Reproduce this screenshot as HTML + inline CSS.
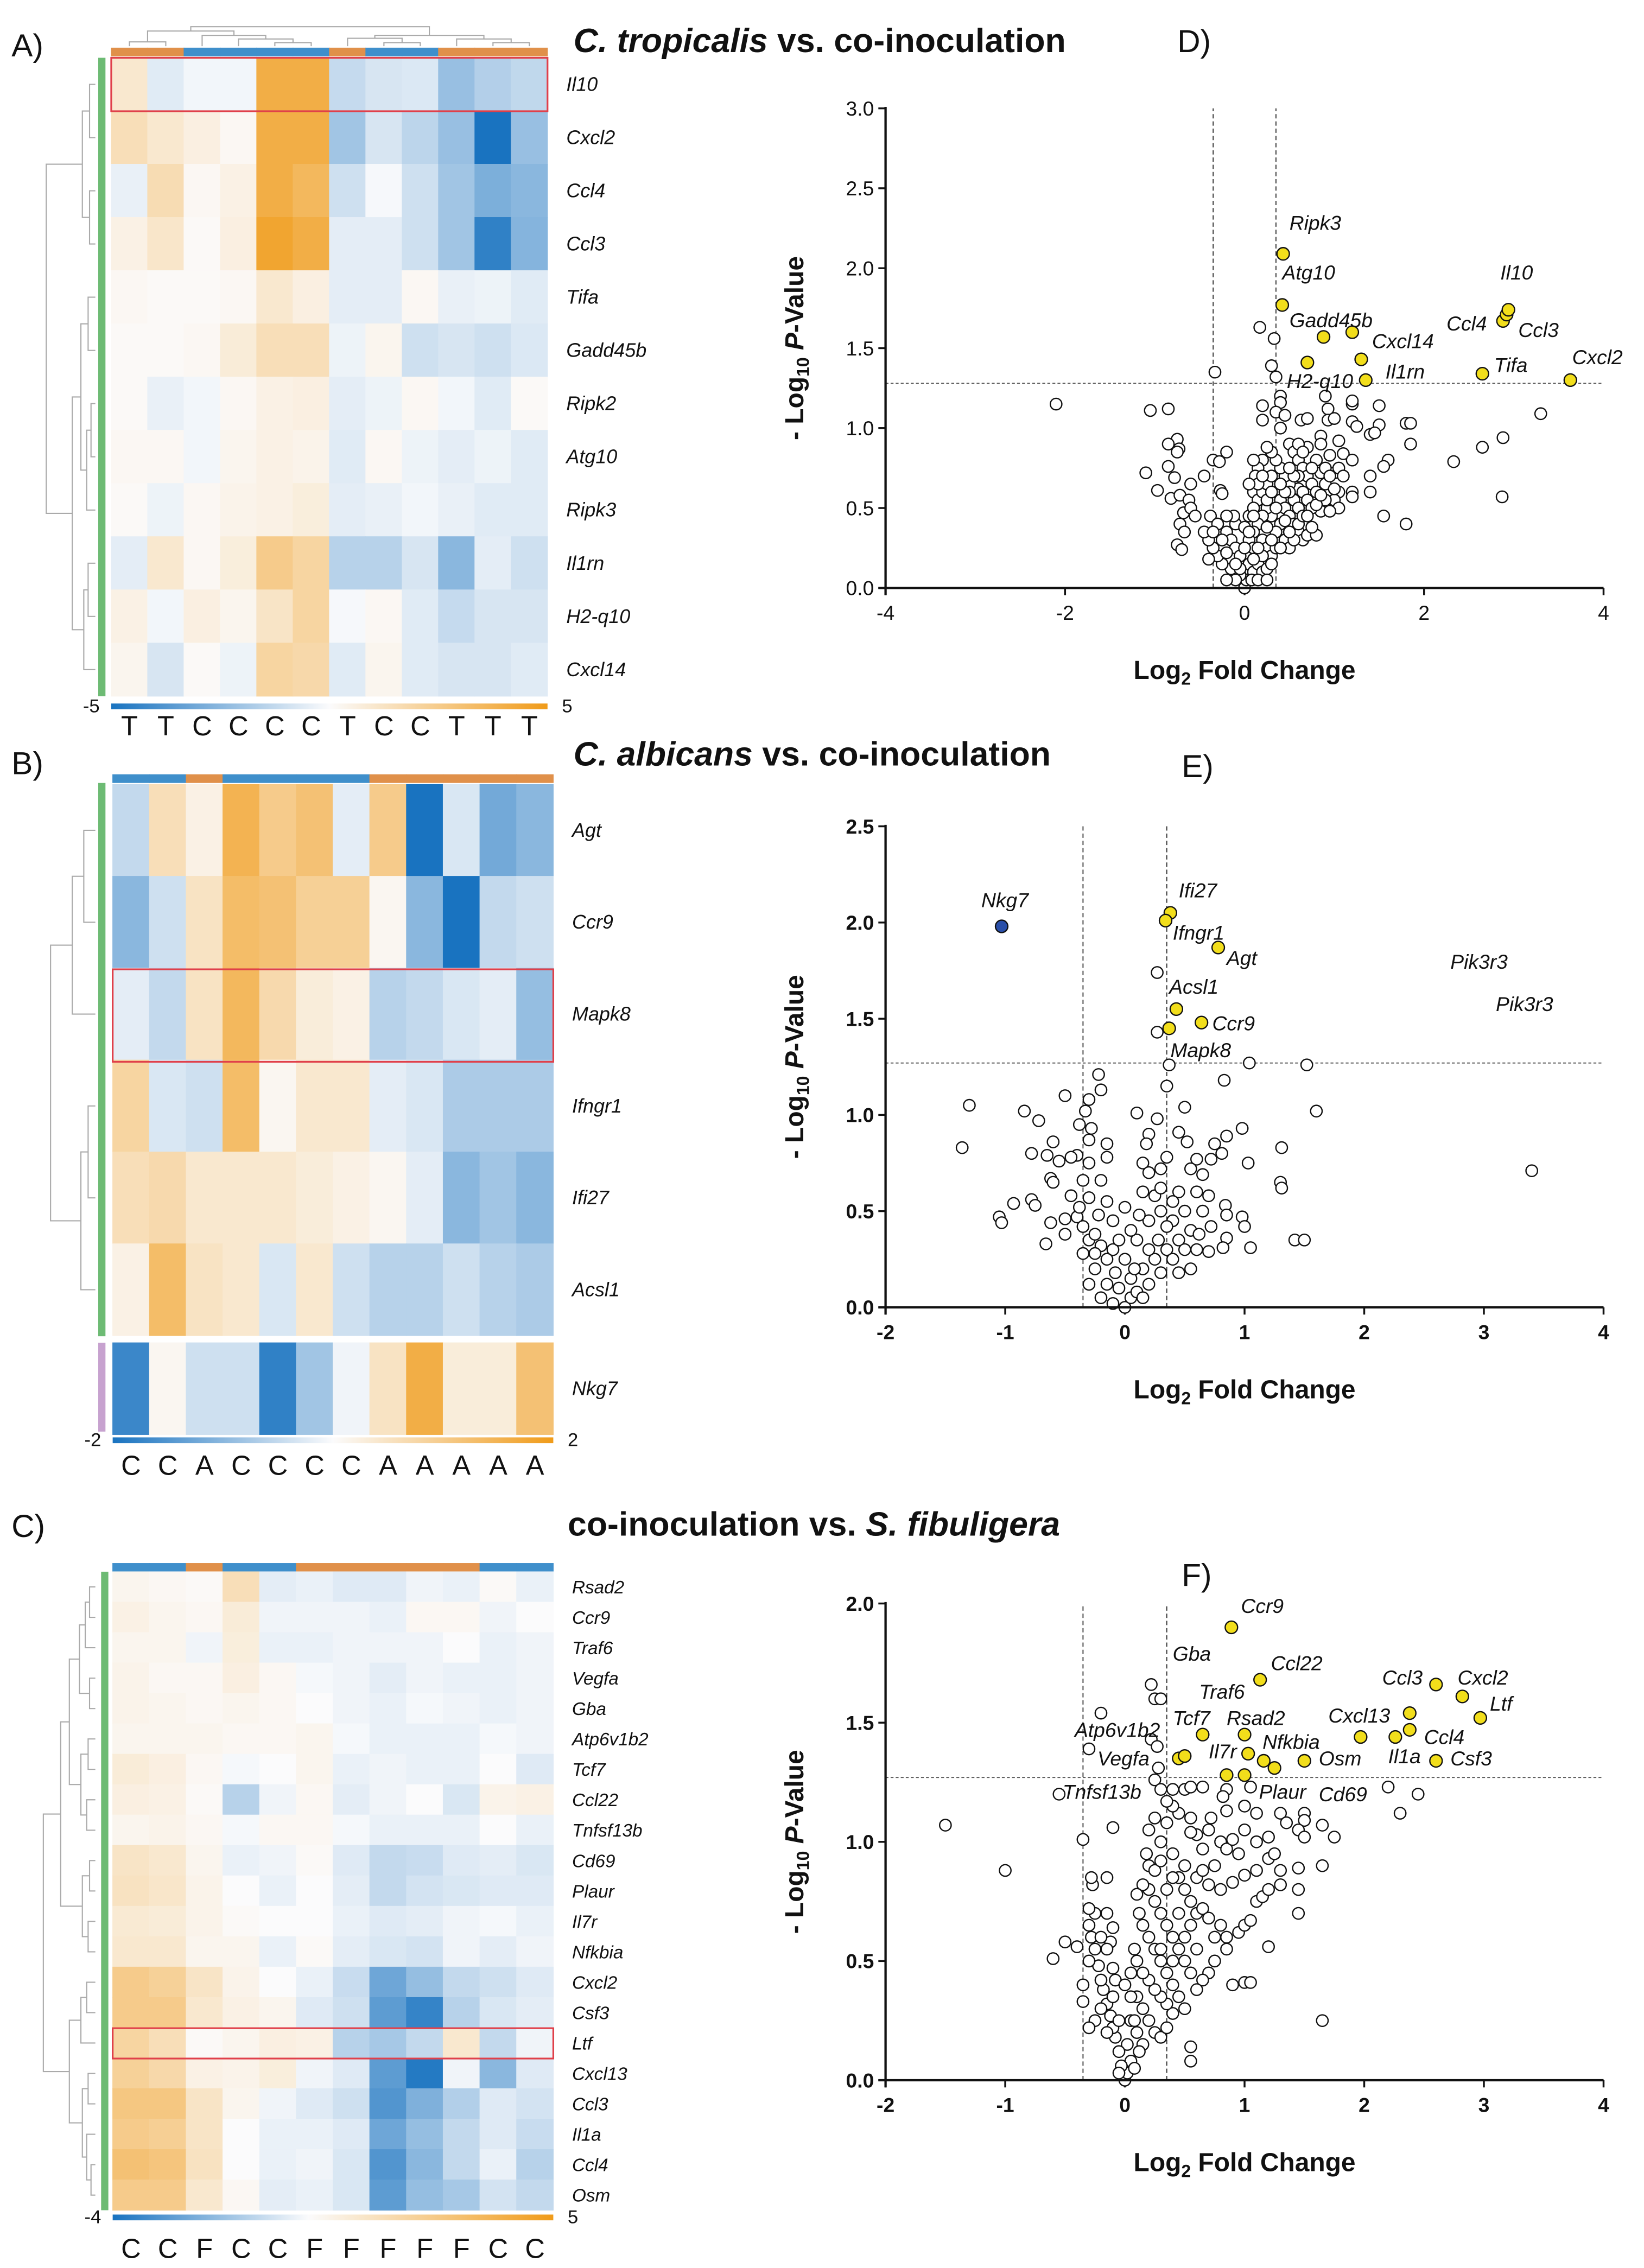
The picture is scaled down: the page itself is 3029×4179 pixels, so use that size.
<!DOCTYPE html>
<html><head><meta charset="utf-8">
<style>
html,body{margin:0;padding:0;background:#fff;}
svg{display:block;}
text{font-family:"Liberation Sans",Arial,sans-serif;}
</style></head>
<body>
<svg id="fig" xmlns="http://www.w3.org/2000/svg" width="3029" height="4179" viewBox="0 0 1138 1570" preserveAspectRatio="none">
<rect width="1138" height="1570" fill="#fff"/>
</svg>
<script>
// ===== Heatmap data =====
const rowsA = ["Il10","Cxcl2","Ccl4","Ccl3","Tifa","Gadd45b","Ripk2","Atg10","Ripk3","Il1rn","H2-q10","Cxcl14"];
const colsA = ["T","T","C","C","C","C","T","C","C","T","T","T"];
const valsA = [
[1,-0.6,-0.2,-0.2,4,4,-1.2,-0.8,-0.7,-2.2,-1.6,-1.3],
[1.5,1,0.6,0.2,4,4,-2,-0.8,-1.4,-2.2,-5,-2.2],
[-0.4,1.6,0.2,0.5,4,3.5,-1,-0.1,-1,-2,-2.8,-2.5],
[0.5,1.1,0.1,0.6,4.5,4,-0.5,-0.5,-1,-2,-4.5,-2.6],
[0.2,0.1,0.1,0.2,1,0.6,-0.5,-0.5,0.2,-0.4,-0.3,-0.6],
[0.1,0.1,0.2,0.8,1.5,1.5,-0.3,0.3,-1,-0.8,-1,-0.7],
[0.1,-0.4,-0.2,0.2,0.5,0.6,-0.5,-0.3,0.2,-0.2,-0.6,0.1],
[0.2,0.2,-0.2,0.3,0.5,0.4,-0.6,0.2,-0.3,-0.5,-0.3,-0.6],
[0.1,-0.3,0.2,0.4,0.5,0.7,-0.5,-0.4,-0.2,-0.4,-0.6,-0.6],
[-0.5,1,0.2,0.7,2.5,2,-1.5,-1.5,-0.8,-2.5,-0.5,-1],
[0.5,-0.2,0.6,0.3,1.2,2,-0.1,0.2,-0.6,-1.2,-0.8,-0.8],
[0.3,-0.8,0.1,-0.3,2,1.8,-0.6,0.3,-0.6,-0.8,-0.8,-0.6]];
const rowsB = ["Agt","Ccr9","Mapk8","Ifngr1","Ifi27","Acsl1","Nkg7"];
const colsB = ["C","C","A","C","C","C","C","A","A","A","A","A"];
const valsB = [
[-0.5,0.6,0.2,1.5,1,1.2,-0.2,1,-2,-0.3,-1.2,-1],
[-1,-0.4,0.5,1.3,1.2,0.9,0.9,0.1,-1,-2,-0.5,-0.4],
[-0.2,-0.5,0.5,1.4,0.7,0.3,0.2,-0.6,-0.5,-0.3,-0.2,-0.9],
[0.8,-0.3,-0.4,1.3,0.1,0.4,0.4,-0.2,-0.3,-0.7,-0.7,-0.7],
[0.6,0.7,0.4,0.4,0.4,0.3,0.2,0.1,-0.2,-1,-0.8,-1],
[0.2,1.3,0.5,0.4,-0.3,0.4,-0.4,-0.6,-0.6,-0.4,-0.6,-0.7],
[-1.7,0.1,-0.4,-0.4,-1.8,-0.8,-0.1,0.5,1.6,0.3,0.3,1.2]];
const rowsC = ["Rsad2","Ccr9","Traf6","Vegfa","Gba","Atp6v1b2","Tcf7","Ccl22","Tnfsf13b","Cd69","Plaur","Il7r","Nfkbia","Cxcl2","Csf3","Ltf","Cxcl13","Ccl3","Il1a","Ccl4","Osm"];
const colsC = ["C","C","F","C","C","F","F","F","F","F","C","C"];
const valsC = [
[0.3,0.2,0.1,1.5,-0.4,-0.3,-0.5,-0.5,-0.2,-0.3,0.1,-0.3],
[0.5,0.3,0.2,0.8,-0.2,-0.2,-0.2,-0.3,0.2,0.2,-0.2,0],
[0.3,0.3,-0.2,0.7,-0.3,-0.3,-0.2,-0.2,-0.2,0,-0.3,-0.2],
[0.4,0.2,0.2,0.6,0.2,-0.1,-0.2,-0.4,-0.2,-0.3,-0.3,-0.2],
[0.4,0.3,0.2,0.3,0.2,0,-0.2,-0.3,-0.1,-0.2,-0.3,-0.2],
[0.3,0.3,0.3,0.2,0.2,0.3,-0.1,-0.3,-0.3,-0.3,-0.1,-0.2],
[0.8,0.6,0.2,-0.1,0,0.3,-0.3,-0.2,-0.3,-0.3,0,-0.5],
[0.6,0.5,0.1,-1.2,-0.2,0.2,-0.4,-0.2,0,-0.6,0.4,0.5],
[0.3,0.4,0.2,-0.1,0.2,0.2,-0.1,-0.3,-0.3,-0.3,0,-0.3],
[1.2,1,0.3,-0.3,-0.2,0.1,-0.5,-1,-0.9,-0.5,-0.4,-0.6],
[1.3,1.1,0.4,0,-0.3,0,-0.4,-1,-0.7,-0.6,-0.5,-0.5],
[0.9,0.8,0.4,0.1,0,0,-0.3,-0.5,-0.4,-0.2,-0.1,-0.3],
[1,1,0.3,0.3,-0.3,0.1,-0.4,-0.6,-0.7,-0.2,-0.4,-0.2],
[2.5,2.2,1.2,0.4,0,-0.3,-0.9,-2.5,-1.8,-1,-0.8,-0.5],
[2.5,2.5,1,0.5,0.3,-0.5,-0.8,-2.8,-3.5,-1.2,-0.6,-0.4],
[2,1.5,0.1,0.3,0.6,0.5,-1.2,-1.5,-1,1,-1,-0.2],
[2.2,1.8,0.5,0.4,0.7,-0.2,-0.5,-2.8,-3.8,-0.2,-2,-0.5],
[2.7,2.7,1.2,0.3,-0.2,-0.5,-0.8,-3,-2.2,-1.3,-0.5,-0.7],
[2.5,2.3,1.2,0,-0.3,-0.3,-0.5,-2.5,-1.8,-1,-0.5,-0.9],
[3,2.8,1.3,0,-0.3,-0.2,-0.6,-3,-2,-1,-0.3,-1.2],
[2.5,2.5,1,0.2,-0.4,-0.3,-0.6,-2.8,-1.8,-1.5,-0.7,-1]];

// ===== Volcano data =====
const xTicksD = [-4,-2,0,2,4];
const yTicksD = ["0.0","0.5","1.0","1.5","2.0","2.5","3.0"];
const sigD = [[0.43,2.09],[0.42,1.77],[0.88,1.57],[1.2,1.6],[0.7,1.41],[1.3,1.43],[1.35,1.3],[2.65,1.34],[2.88,1.67],[2.92,1.71],[2.94,1.74],[3.63,1.3]];
const labelsD = [["Ripk3",0.5,2.24],["Atg10",0.42,1.93],["Gadd45b",0.5,1.63],["Cxcl14",1.42,1.5],["H2-q10",0.47,1.25],["Il1rn",1.57,1.31],["Il10",2.85,1.93],["Ccl4",2.25,1.61],["Ccl3",3.05,1.57],["Tifa",2.78,1.35],["Cxcl2",3.65,1.4]];
const ptsD = [[-2.1,1.15],[-1.05,1.11],[-0.85,1.12],[-0.75,0.93],[-0.85,0.9],[-0.73,0.87],[-0.75,0.85],[-1.1,0.72],[-0.85,0.76],[-0.78,0.69],[-0.97,0.61],[-0.82,0.56],[-0.72,0.58],[-0.45,0.7],[-0.6,0.65],[-0.62,0.55],[-0.68,0.47],[-0.72,0.4],[-0.67,0.35],[-0.6,0.5],[-0.55,0.45],[-0.75,0.27],[-0.7,0.24],[-0.35,0.8],[-0.28,0.79],[-0.2,0.85],[-0.27,0.61],[-0.25,0.59],[-0.33,1.35],[0.17,1.63],[0.33,1.56],[0.3,1.39],[0.35,1.32],[0.4,1.2],[0.4,1.16],[0.2,1.14],[0.2,1.05],[0.35,1.1],[0.4,1.0],[0.45,1.08],[0.63,1.05],[0.7,1.06],[0.9,1.2],[0.93,1.12],[0.93,1.05],[1.0,1.06],[1.2,1.15],[1.2,1.17],[1.2,1.04],[1.25,1.01],[1.5,1.14],[1.5,1.02],[1.4,0.96],[1.45,0.97],[1.8,1.03],[1.85,1.03],[1.85,0.9],[1.6,0.8],[1.55,0.76],[1.4,0.7],[1.4,0.6],[1.55,0.45],[1.8,0.4],[3.3,1.09],[2.88,0.94],[2.65,0.88],[2.33,0.79],[2.87,0.57],[0.85,0.95],[0.85,0.9],[1.05,0.92],[1.1,0.84],[1.2,0.8],[0.5,0.9],[0.55,0.85],[0.7,0.88],[0.8,0.8],[0.95,0.83],[0.6,0.8],[0.65,0.75],[0.7,0.7],[0.75,0.65],[0.85,0.72],[0.9,0.65],[1.0,0.72],[1.05,0.75],[1.05,0.6],[1.0,0.55],[1.05,0.5],[1.2,0.6],[1.2,0.57],[0.9,0.55],[0.8,0.6],[0.85,0.48],[0.6,0.62],[0.55,0.55],[0.5,0.65],[0.45,0.7],[0.4,0.75],[0.35,0.8],[0.3,0.85],[0.25,0.88],[0.2,0.8],[0.15,0.75],[0.12,0.7],[0.1,0.6],[0.15,0.55],[0.2,0.6],[0.25,0.65],[0.3,0.7],[0.35,0.6],[0.4,0.55],[0.45,0.5],[0.5,0.45],[0.55,0.4],[0.6,0.35],[0.65,0.3],[0.7,0.33],[0.8,0.33],[0.4,0.4],[0.35,0.35],[0.3,0.45],[0.25,0.5],[0.2,0.45],[0.15,0.4],[0.1,0.35],[0.05,0.3],[0.1,0.25],[0.2,0.3],[0.25,0.25],[0.3,0.2],[0.35,0.25],[0.45,0.3],[0.5,0.25],[0.05,0.15],[0.1,0.1],[0.15,0.15],[0.2,0.1],[0.25,0.12],[0.3,0.15],[0.0,0.0],[0.02,0.05],[-0.05,0.08],[-0.1,0.05],[-0.15,0.12],[-0.2,0.05],[-0.25,0.15],[-0.3,0.2],[-0.35,0.25],[-0.4,0.3],[-0.45,0.35],[-0.38,0.45],[-0.3,0.4],[-0.2,0.35],[-0.15,0.3],[-0.1,0.25],[-0.05,0.2],[-0.1,0.4],[-0.12,0.45],[-0.2,0.45],[-0.25,0.3],[-0.05,0.12],[0.08,0.05],[-0.35,0.35],[-0.4,0.18],[-0.2,0.22],[-0.1,0.15],[0.0,0.38],[0.05,0.45],[0.0,0.25],[0.1,0.5],[0.15,0.65],[0.05,0.65],[0.1,0.8],[0.6,0.7],[0.65,0.6],[0.7,0.55],[0.75,0.5],[0.55,0.7],[0.5,0.6],[0.45,0.6],[0.6,0.5],[0.45,0.42],[0.55,0.3],[0.4,0.25],[0.3,0.3],[0.25,0.38],[0.2,0.2],[0.15,0.25],[0.1,0.18],[0.5,0.35],[0.6,0.4],[0.65,0.45],[0.75,0.38],[0.95,0.48],[1.0,0.62],[1.1,0.7],[0.7,0.45],[0.8,0.52],[0.85,0.58],[0.9,0.75],[0.95,0.7],[0.75,0.75],[0.6,0.9],[0.65,0.85],[0.5,0.75],[0.4,0.65],[0.35,0.5],[0.25,0.55],[0.2,0.7],[0.3,0.6],[0.1,0.45],[0.05,0.35],[0.15,0.05],[0.25,0.05]];

const xTicksE = [-2,-1,0,1,2,3,4];
const yTicksE = ["0.0","0.5","1.0","1.5","2.0","2.5"];
const downE = [[-1.03,1.98]];
const sigE = [[0.38,2.05],[0.34,2.01],[0.78,1.87],[0.43,1.55],[0.64,1.48],[0.37,1.45]];
const labelsE = [["Nkg7",-1.2,2.08],["Ifi27",0.45,2.13],["Ifngr1",0.4,1.91],["Agt",0.85,1.78],["Acsl1",0.37,1.63],["Ccr9",0.73,1.44],["Mapk8",0.38,1.3],["Pik3r3",2.72,1.76],["Pik3r3",3.1,1.54]];
const ptsE = [[0.27,1.74],[0.27,1.43],[0.37,1.26],[1.04,1.27],[1.52,1.26],[-0.22,1.21],[-0.2,1.13],[0.35,1.15],[0.83,1.18],[-0.5,1.1],[-0.3,1.08],[-1.3,1.05],[-0.84,1.02],[-0.33,1.02],[0.1,1.01],[0.27,0.98],[0.5,1.04],[1.6,1.02],[-0.72,0.97],[-0.38,0.95],[-0.28,0.93],[0.98,0.93],[0.45,0.91],[0.2,0.9],[0.85,0.89],[-1.36,0.83],[-0.6,0.86],[-0.3,0.87],[-0.15,0.85],[0.52,0.86],[0.75,0.85],[1.31,0.83],[-0.78,0.8],[-0.65,0.79],[-0.4,0.79],[0.81,0.8],[-0.55,0.76],[-0.45,0.78],[-0.15,0.78],[0.35,0.78],[0.6,0.77],[0.72,0.77],[1.03,0.75],[-0.3,0.75],[0.15,0.75],[0.3,0.72],[0.55,0.72],[-0.62,0.67],[-0.35,0.66],[-0.2,0.66],[0.65,0.69],[1.3,0.65],[1.31,0.62],[3.4,0.71],[-0.6,0.65],[-0.45,0.58],[-0.3,0.57],[-0.15,0.55],[0,0.52],[0.15,0.6],[0.25,0.58],[0.45,0.6],[0.6,0.6],[0.7,0.58],[-0.78,0.56],[-0.93,0.54],[-0.75,0.53],[0.84,0.53],[-1.05,0.47],[-1.03,0.44],[-0.5,0.46],[-0.4,0.47],[-0.62,0.44],[-0.5,0.38],[-0.66,0.33],[0.98,0.47],[1.0,0.42],[0.85,0.48],[0.85,0.36],[0.82,0.31],[1.05,0.31],[1.42,0.35],[1.5,0.35],[0.72,0.42],[0.7,0.29],[-0.35,0.42],[-0.3,0.35],[-0.2,0.32],[-0.1,0.3],[0,0.25],[0.1,0.35],[0.2,0.45],[0.3,0.5],[0.4,0.45],[0.5,0.5],[0.55,0.4],[0.45,0.35],[0.35,0.3],[0.25,0.25],[0.15,0.2],[0.05,0.15],[-0.05,0.1],[-0.15,0.12],[-0.25,0.2],[-0.35,0.28],[-0.3,0.12],[-0.2,0.05],[-0.1,0.02],[0,0],[0.05,0.05],[0.1,0.08],[0.2,0.12],[0.3,0.18],[0.4,0.25],[0.5,0.3],[0.6,0.3],[0.55,0.2],[0.45,0.18],[-0.15,0.25],[-0.25,0.38],[-0.1,0.45],[0.05,0.4],[0.12,0.48],[0.2,0.3],[0.28,0.35],[0.35,0.42],[-0.05,0.35],[0.65,0.5],[0.62,0.38],[0.3,0.62],[0.2,0.7],[0.18,0.85],[0.4,0.55],[-0.22,0.48],[-0.38,0.52],[0.08,0.2],[-0.08,0.18],[0.15,0.05],[-0.25,0.28]];

const xTicksF = [-2,-1,0,1,2,3,4];
const yTicksF = ["0.0","0.5","1.0","1.5","2.0"];
const sigF = [[0.89,1.9],[1.13,1.68],[2.6,1.66],[2.82,1.61],[2.97,1.52],[2.38,1.54],[2.38,1.47],[2.26,1.44],[1.97,1.44],[0.65,1.45],[1.0,1.45],[1.03,1.37],[0.45,1.35],[0.5,1.36],[1.16,1.34],[1.25,1.31],[1.5,1.34],[2.6,1.34],[0.85,1.28],[1.0,1.28]];
const labelsF = [["Ccr9",0.97,1.96],["Gba",0.4,1.76],["Ccl22",1.22,1.72],["Traf6",0.62,1.6],["Ccl3",2.15,1.66],["Cxcl2",2.78,1.66],["Ltf",3.05,1.55],["Cxcl13",1.7,1.5],["Tcf7",0.4,1.49],["Rsad2",0.85,1.49],["Atp6v1b2",-0.42,1.44],["Nfkbia",1.15,1.39],["Ccl4",2.5,1.41],["Vegfa",-0.23,1.32],["Il7r",0.7,1.35],["Osm",1.62,1.32],["Il1a",2.2,1.33],["Csf3",2.72,1.32],["Tnfsf13b",-0.52,1.18],["Plaur",1.12,1.18],["Cd69",1.62,1.17]];
const ptsF = [[-1.5,1.07],[-1.0,0.88],[-0.6,0.51],[-0.5,0.58],[-0.4,0.56],[-0.35,1.01],[-0.55,1.2],[-0.2,1.54],[-0.3,1.39],[-0.1,1.06],[0.22,1.66],[0.25,1.6],[0.3,1.6],[0.22,1.43],[0.27,1.4],[0.28,1.31],[0.25,1.26],[0.3,1.22],[0.4,1.22],[0.5,1.22],[0.55,1.23],[0.65,1.23],[0.85,1.22],[0.82,1.19],[1.05,1.23],[2.2,1.23],[2.45,1.2],[2.3,1.12],[1.0,1.15],[0.85,1.13],[1.1,1.12],[1.3,1.12],[1.5,1.12],[1.5,1.09],[1.35,1.08],[1.45,1.05],[1.65,1.07],[1.5,1.02],[1.75,1.02],[1.65,0.9],[1.45,0.89],[1.45,0.8],[1.45,0.7],[1.2,0.56],[1.65,0.25],[0.55,0.14],[0.55,0.08],[1.0,0.41],[1.05,0.41],[0.9,0.4],[0.85,0.6],[0.95,0.62],[1.0,0.65],[1.05,0.67],[1.1,0.75],[1.15,0.77],[1.2,0.8],[1.3,0.82],[1.3,0.88],[1.2,0.93],[1.25,0.95],[1.1,0.88],[1.0,0.86],[0.9,0.83],[0.8,0.8],[0.7,0.82],[0.75,0.9],[0.65,0.97],[0.6,1.03],[0.55,1.04],[0.7,1.05],[0.8,1.0],[0.85,0.97],[0.9,1.01],[1.0,1.05],[1.1,1.0],[1.2,1.02],[0.95,0.95],[0.45,1.12],[0.4,1.15],[0.35,1.08],[0.25,1.1],[0.2,1.05],[0.18,0.95],[0.2,0.9],[0.25,0.88],[0.3,0.92],[0.4,0.95],[0.45,0.85],[0.5,0.8],[0.55,0.75],[0.6,0.7],[0.65,0.72],[0.7,0.68],[0.75,0.6],[0.8,0.65],[0.85,0.55],[0.75,0.5],[0.7,0.45],[0.65,0.42],[0.6,0.38],[0.55,0.45],[0.5,0.5],[0.45,0.55],[0.4,0.6],[0.35,0.65],[0.3,0.7],[0.25,0.75],[0.2,0.8],[0.15,0.82],[0.1,0.78],[0.12,0.7],[0.15,0.65],[0.2,0.6],[0.25,0.55],[0.3,0.5],[0.35,0.45],[0.4,0.4],[0.45,0.35],[0.5,0.3],[0.4,0.28],[0.35,0.32],[0.3,0.35],[0.25,0.38],[0.2,0.42],[0.15,0.45],[0.1,0.5],[0.08,0.55],[0.05,0.45],[0.1,0.35],[0.15,0.3],[0.2,0.25],[0.25,0.2],[0.3,0.18],[0.35,0.22],[0.15,0.15],[0.1,0.2],[0.05,0.25],[0.02,0.15],[0.05,0.08],[0.0,0.0],[0.02,0.03],[-0.03,0.06],[-0.05,0.12],[-0.08,0.18],[-0.1,0.22],[-0.12,0.27],[-0.15,0.32],[-0.18,0.38],[-0.2,0.42],[-0.22,0.48],[-0.25,0.55],[-0.28,0.6],[-0.3,0.65],[-0.25,0.7],[-0.3,0.72],[-0.27,0.82],[-0.28,0.85],[-0.15,0.85],[-0.15,0.7],[-0.1,0.64],[-0.12,0.58],[-0.15,0.55],[-0.1,0.47],[-0.08,0.42],[-0.2,0.3],[-0.25,0.25],[-0.3,0.22],[-0.35,0.33],[-0.35,0.4],[-0.3,0.5],[-0.2,0.6],[-0.15,0.2],[-0.05,0.25],[-0.1,0.35],[0.05,0.35],[0.0,0.4],[0.08,0.25],[0.3,0.55],[0.4,0.5],[0.5,0.6],[0.55,0.65],[0.6,0.55],[0.45,0.7],[0.35,0.8],[0.5,0.9],[0.6,0.85],[0.65,0.88],[0.4,0.85],[0.3,1.0],[0.35,1.17],[0.55,1.1],[0.72,1.1],[0.12,0.12],[0.08,0.05],[-0.05,0.03]];

// ===== drawing helpers =====
const NS = "http://www.w3.org/2000/svg";
const svg = document.getElementById('fig');
function mk(tag, attrs, parent, txt){
  const e = document.createElementNS(NS, tag);
  for (const k in attrs) e.setAttribute(k, attrs[k]);
  if (txt !== undefined) e.textContent = txt;
  (parent || svg).appendChild(e);
  return e;
}
function grp(name){
  const g = document.createElementNS(NS,'g');
  
  
  svg.appendChild(g);
  return g;
}
const ORA = [240,155,25], BLU = [25,115,192], WHT = [251,251,252];
function colorFor(v, vmin, vmax){
  let t, c;
  if (v >= 0){ t = Math.min(1, v / vmax); c = ORA; } else { t = Math.min(1, v / vmin); c = BLU; }
  const r = Math.round(WHT[0] + (c[0]-WHT[0])*t), g = Math.round(WHT[1] + (c[1]-WHT[1])*t), b = Math.round(WHT[2] + (c[2]-WHT[2])*t);
  return `rgb(${r},${g},${b})`;
}
function heatmap(name, rows, cols, vals, opt){
  const g = grp(name);
  const cw = (opt.x1 - opt.x0) / cols.length;
  // top annotation bar
  cols.forEach((c, j) => {
    const r = mk('rect', {x: opt.x0 + j*cw - 0.2, y: opt.barY, width: cw + 0.4, height: 6, fill: (c === opt.orangeKey ? '#E0904A' : '#3F8FCB')}, g);
    
    
  });
  rows.forEach((rn, i) => {
    const y0 = opt.rowY[i], h = opt.rowH;
    vals[i].forEach((v, j) => {
      const r = mk('rect', {x: opt.x0 + j*cw - 0.2, y: y0 - 0.2, width: cw + 0.4, height: h + 0.4, fill: colorFor(v, opt.vmin, opt.vmax)}, g);
      
      
    });
    const t = mk('text', {x: opt.x1 + 13, y: y0 + h/2 + 4.5, 'font-size': opt.fs, 'font-style': 'italic', fill: '#111'}, g, rn);
    
    
  });
  // colorbar
  const gid = name + '-grad';
  const defs = mk('defs', {}, g);
  const lg = mk('linearGradient', {id: gid, x1: 0, x2: 1, y1: 0, y2: 0}, defs);
  const z = -opt.vmin / (opt.vmax - opt.vmin);
  mk('stop', {offset: 0, 'stop-color': 'rgb(25,115,192)'}, lg);
  mk('stop', {offset: z, 'stop-color': 'rgb(251,251,252)'}, lg);
  mk('stop', {offset: 1, 'stop-color': 'rgb(240,155,25)'}, lg);
  const cb = mk('rect', {x: opt.x0, y: opt.cbY, width: opt.x1 - opt.x0, height: 4, fill: `url(#${gid})`}, g);
  
  
  const l1 = mk('text', {x: opt.x0 - 8, y: opt.cbY + 6, 'font-size': 13, 'text-anchor': 'end', fill: '#111'}, g, String(opt.vmin));
  
  
  const l2 = mk('text', {x: opt.x1 + 10, y: opt.cbY + 6, 'font-size': 13, fill: '#111'}, g, String(opt.vmax));
  
  
  cols.forEach((c, j) => {
    const t = mk('text', {x: opt.x0 + (j + 0.5)*cw, y: opt.colLabY, 'font-size': 19, 'text-anchor': 'middle', fill: '#111'}, g, c);
    
    
  });
  return g;
}
function rowsEven(y0, h, n){ const a = []; for (let i=0;i<n;i++) a.push(y0 + i*h); return a; }

// Panel A heatmap
heatmap('heatmap-a', rowsA, colsA, valsA, {x0:77, x1:379, barY:33, rowY: rowsEven(40, 36.83, 12), rowH:36.83, vmin:-5, vmax:5, orangeKey:'T', cbY:487, colLabY:509, fs:13.5});
// Panel B heatmap
const rowYB = rowsEven(543, 63.6, 6); rowYB.push(929.5);
heatmap('heatmap-b', rowsB, colsB, valsB, {x0:78, x1:383, barY:536, rowY: rowYB, rowH:63.6, vmin:-2, vmax:2, orangeKey:'A', cbY:995, colLabY:1021, fs:13.5});
// Panel C heatmap
heatmap('heatmap-c', rowsC, colsC, valsC, {x0:78, x1:383, barY:1082, rowY: rowsEven(1088, 21.05, 21), rowH:21.05, vmin:-4, vmax:5, orangeKey:'F', cbY:1533, colLabY:1563, fs:12.5});

// side bars and highlight boxes
const side = [[68,40,482,'#6DBB74'],[68,542,925,'#6DBB74'],[68,929.5,991,'#C7A2CF'],[70,1088,1530,'#6DBB74']];
side.forEach(s => {
  const r = mk('rect', {x: s[0], y: s[1], width: 5, height: s[2]-s[1], fill: s[3]});
  
  
});
const boxes = [[77,40,379,77],[78,671,383,735],[78,1404,383,1425]];
boxes.forEach(b => {
  const r = mk('rect', {x: b[0], y: b[1], width: b[2]-b[0], height: b[3]-b[1], fill: 'none', stroke: '#E0404A', 'stroke-width': 1.2});
  
  
});

// dendrograms
const dg = grp('dendrograms');
function leafR(y){ return {x: 66, y: y}; }
function joinR(a, b, x){
  mk('path', {d: `M${a.x},${a.y}H${x}V${b.y}H${b.x}`, fill: 'none', stroke: '#aaa', 'stroke-width': 0.8}, dg);
  return {x: x, y: (a.y + b.y)/2};
}
function rowDendro(y0, h, n, spec){
  const L = []; for (let i=0;i<n;i++) L.push(leafR(y0 + (i+0.5)*h));
  return spec(L);
}
rowDendro(40, 36.83, 12, L => {
  const a = joinR(joinR(L[0], L[1], 62), joinR(L[2], L[3], 62), 57);
  const b1 = joinR(L[4], L[5], 61), b2 = joinR(L[6], L[7], 63), b3 = joinR(joinR(b2, L[8], 60), b1, 56);
  const c = joinR(joinR(L[9], L[10], 61), L[11], 58);
  const d = joinR(b3, c, 50);
  return joinR(a, d, 32);
});
rowDendro(543, 63.6, 6, L => {
  const a = joinR(L[0], L[1], 58);
  const b = joinR(joinR(L[3], L[4], 61), L[5], 56);
  return joinR(joinR(a, L[2], 50), b, 35);
});
rowDendro(1088, 21.05, 21, L => {
  const g1 = joinR(joinR(joinR(L[0], L[1], 62), L[2], 59), joinR(L[3], L[4], 62), 55);
  const g2 = joinR(joinR(L[5], L[6], 61), joinR(L[7], L[8], 60), 56);
  const g3 = joinR(joinR(L[9], L[10], 62), joinR(L[11], L[12], 61), 57);
  const g4 = joinR(joinR(L[13], L[14], 60), L[15], 56);
  const g5 = joinR(joinR(L[16], L[17], 61), joinR(L[18], joinR(L[19], L[20], 63), 60), 57);
  const top1 = joinR(joinR(g1, g2, 48), g3, 42);
  return joinR(top1, joinR(g4, g5, 48), 30);
});
function joinC(a, b, y){
  mk('path', {d: `M${a.x},${a.y}V${y}H${b.x}V${b.y}`, fill: 'none', stroke: '#aaa', 'stroke-width': 0.8}, dg);
  return {x: (a.x + b.x)/2, y: y};
}
(function(){
  const cw = (379-77)/12; const L = []; for (let j=0;j<12;j++) L.push({x: 77 + (j+0.5)*cw, y: 32});
  const a = joinC(L[0], L[1], 29);
  const b = joinC(L[2], joinC(L[3], joinC(L[4], L[5], 29.5), 27), 24.5);
  const left = joinC(a, b, 21.5);
  const c = joinC(L[6], joinC(L[7], L[8], 29.5), 26.5);
  const d = joinC(L[9], joinC(L[10], L[11], 29.5), 27);
  const right = joinC(c, d, 24.5);
  joinC(left, right, 18.5);
})();

// titles & panel letters
const tg = grp('titles');
function title(x, y, parts, name){
  const t = mk('text', {x: x, y: y, 'font-size': 23.5, 'font-weight': 'bold', fill: '#111'}, tg);
  
  
  parts.forEach(p => { const s = mk('tspan', p[1] ? {'font-style': 'italic'} : {}, t, p[0]); });
}
title(397, 36, [["C. tropicalis", true], [" vs. co-inoculation", false]], 'title-a');
title(397, 530, [["C. albicans", true], [" vs. co-inoculation", false]], 'title-b');
title(393, 1063, [["co-inoculation vs. ", false], ["S. fibuligera", true]], 'title-c');
[["A)",8,39],["B)",8,536],["C)",8,1064],["D)",815,36],["E)",818,538],["F)",818,1098]].forEach(p => {
  const t = mk('text', {x: p[1], y: p[2], 'font-size': 22, fill: '#111'}, tg, p[0]);
  
  
});

// volcano plots
function volcano(name, o){
  const g = grp(name);
  const X = v => o.px0 + (v - o.xmin) / (o.xmax - o.xmin) * (o.px1 - o.px0);
  const Y = v => o.py0 - v / o.ymax * (o.py0 - o.py1);
  const fw = o.boldTicks ? 'bold' : 'normal';
  // ticks
  o.yTicks.forEach(s => {
    const v = parseFloat(s), y = Y(v);
    mk('line', {x1: o.px0 - 5, x2: o.px0, y1: y, y2: y, stroke: '#111', 'stroke-width': 1.3}, g);
    const t = mk('text', {x: o.px0 - 8, y: y + 5, 'font-size': 14, 'font-weight': fw, 'text-anchor': 'end', fill: '#111'}, g, s);
    
    
  });
  o.xTicks.forEach(v => {
    const x = X(v);
    mk('line', {x1: x, x2: x, y1: o.py0, y2: o.py0 + 5, stroke: '#111', 'stroke-width': 1.3}, g);
    const t = mk('text', {x: x, y: o.py0 + 22, 'font-size': 14, 'font-weight': fw, 'text-anchor': 'middle', fill: '#111'}, g, String(v));
    
    
  });
  // thresholds
  [-0.35, 0.35].forEach(v => mk('line', {x1: X(v), x2: X(v), y1: o.py0, y2: o.py1, stroke: '#333', 'stroke-width': 0.7, 'stroke-dasharray': '3,2'}, g));
  mk('line', {x1: o.px0, x2: o.px1, y1: Y(o.hline), y2: Y(o.hline), stroke: '#555', 'stroke-width': 0.7, 'stroke-dasharray': '2,1.5'}, g);
  // points
  o.pts.forEach(p => {
    const c = mk('circle', {cx: X(p[0]), cy: Y(p[1]), r: 4, fill: '#fff', stroke: '#111', 'stroke-width': 0.9}, g);
    
    
  });
  (o.down || []).forEach(p => {
    const c = mk('circle', {cx: X(p[0]), cy: Y(p[1]), r: 4.3, fill: '#2A4FA8', stroke: '#111', 'stroke-width': 0.9}, g);
    
    
  });
  o.sig.forEach(p => {
    const c = mk('circle', {cx: X(p[0]), cy: Y(p[1]), r: 4.3, fill: '#F2DE1B', stroke: '#111', 'stroke-width': 0.9}, g);
    
    
  });
  o.labels.forEach(l => {
    const t = mk('text', {x: X(l[1]), y: Y(l[2]), 'font-size': 14, 'font-style': 'italic', fill: '#111'}, g, l[0]);
    
    
  });
  // axes
  mk('line', {x1: o.px0, x2: o.px0, y1: o.py1 - 1, y2: o.py0 + 5, stroke: '#111', 'stroke-width': 1.6}, g);
  mk('line', {x1: o.px0 - 5, x2: o.px1, y1: o.py0, y2: o.py0, stroke: '#111', 'stroke-width': 1.6}, g);
  const xt = mk('text', {x: (o.px0 + o.px1)/2, y: o.py0 + 63, 'font-size': 18, 'font-weight': 'bold', 'text-anchor': 'middle', fill: '#111'}, g);
  
  
  mk('tspan', {}, xt, 'Log');
  mk('tspan', {'font-size': 12, dy: 4}, xt, '2');
  mk('tspan', {dy: -4}, xt, ' Fold Change');
  const cy = (o.py0 + o.py1)/2;
  const yt = mk('text', {x: 0, y: 0, transform: `translate(${o.px0 - 57},${cy}) rotate(-90)`, 'font-size': 18, 'font-weight': 'bold', 'text-anchor': 'middle', fill: '#111'}, g);
  
  
  mk('tspan', {}, yt, '- Log');
  mk('tspan', {'font-size': 12, dy: 4}, yt, '10');
  mk('tspan', {dy: -4, 'font-style': 'italic'}, yt, ' P');
  mk('tspan', {}, yt, '-Value');
}
volcano('volcano-d', {px0: 613, px1: 1110, xmin: -4, xmax: 4, py0: 407, py1: 75, ymax: 3, xTicks: xTicksD, yTicks: yTicksD, hline: 1.28, pts: ptsD, sig: sigD, labels: labelsD, boldTicks: false});
volcano('volcano-e', {px0: 613, px1: 1110, xmin: -2, xmax: 4, py0: 905, py1: 572, ymax: 2.5, xTicks: xTicksE, yTicks: yTicksE, hline: 1.27, pts: ptsE, sig: sigE, down: downE, labels: labelsE, boldTicks: true});
volcano('volcano-f', {px0: 613, px1: 1110, xmin: -2, xmax: 4, py0: 1440, py1: 1110, ymax: 2, xTicks: xTicksF, yTicks: yTicksF, hline: 1.27, pts: ptsF, sig: sigF, labels: labelsF, boldTicks: true});
</script>
</body></html>
